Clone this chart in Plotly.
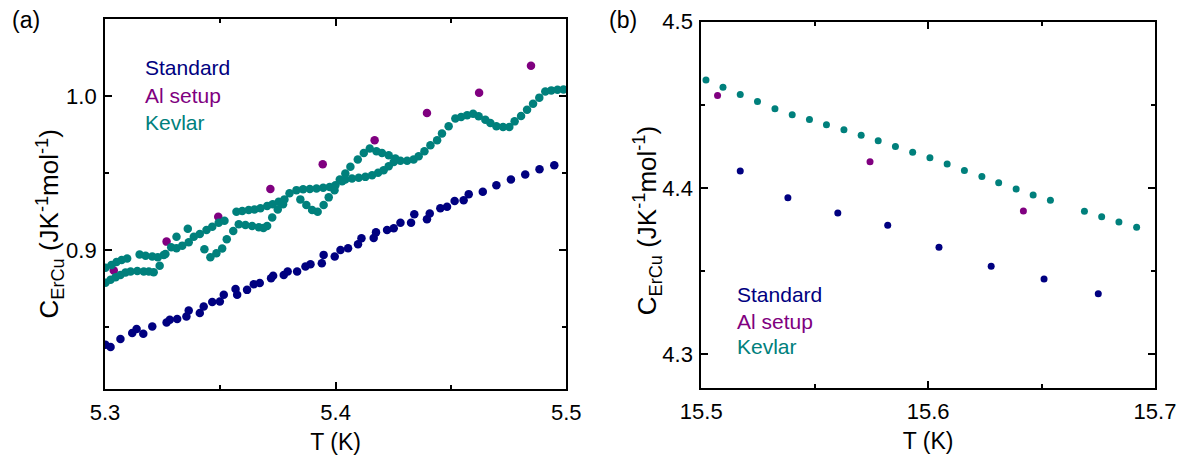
import plotly.graph_objects as go

# ---------------- Panel (a) data ----------------
std_a_T = [5.3002, 5.3024, 5.3067, 5.3118, 5.3137, 5.3166, 5.3205, 5.3267, 5.3281, 5.3313,
           5.3353, 5.3363, 5.3411, 5.3428, 5.3465, 5.3498, 5.3515, 5.3566, 5.3573, 5.3616,
           5.3645, 5.3671, 5.3720, 5.3729, 5.3775, 5.3792, 5.3833, 5.3869, 5.3891, 5.3940,
           5.3948, 5.3996, 5.4021, 5.4054, 5.4097, 5.4112, 5.4165, 5.4175, 5.4223, 5.4252,
           5.4281, 5.4327, 5.4341, 5.4396, 5.4408, 5.4454, 5.4483, 5.4516, 5.4555, 5.4577,
           5.4638, 5.4697, 5.4760, 5.4822, 5.4884, 5.4948]
std_a_C = [0.8387, 0.8373, 0.8424, 0.8463, 0.8489, 0.8459, 0.8506, 0.8532, 0.8549, 0.8554,
           0.8571, 0.8609, 0.8593, 0.8635, 0.8664, 0.8668, 0.8711, 0.8748, 0.8711, 0.8743,
           0.8780, 0.8787, 0.8819, 0.8834, 0.8840, 0.8862, 0.8862, 0.8894, 0.8909, 0.8916,
           0.8970, 0.8959, 0.9002, 0.9013, 0.9039, 0.9078, 0.9080, 0.9116, 0.9131, 0.9142,
           0.9179, 0.9179, 0.9233, 0.9201, 0.9239, 0.9272, 0.9282, 0.9319, 0.9325, 0.9364,
           0.9379, 0.9422, 0.9459, 0.9492, 0.9526, 0.9552]

al_a_T = [5.3038, 5.3267, 5.3491, 5.3717, 5.3944, 5.4169, 5.4396, 5.4622, 5.4847]
al_a_C = [0.8868, 0.9056, 0.9217, 0.9398, 0.9558, 0.9713, 0.9890, 1.0022, 1.0197]

kev_a_T = [
    # lower row start
    5.3002, 5.3024, 5.3046, 5.3067, 5.3089, 5.3111, 5.3140, 5.3168, 5.3190, 5.3211,
    5.3237, 5.3262, 5.3287, 5.3310, 5.3335, 5.3363, 5.3385, 5.3411, 5.3440, 5.3465,
    5.3493, 5.3518,
    # upper row start
    5.3002, 5.3028, 5.3050, 5.3072, 5.3096, 5.3150, 5.3176, 5.3205, 5.3229, 5.3255,
    5.3310, 5.3359,
    # dip 1
    5.3431, 5.3457, 5.3483, 5.3508, 5.3528, 5.3556,
    # upper row 2
    5.3570, 5.3595, 5.3623, 5.3648, 5.3674, 5.3703, 5.3727, 5.3753, 5.3778, 5.3800,
    5.3830, 5.3859, 5.3888, 5.3917, 5.3946, 5.3974, 5.3999, 5.4018, 5.4042, 5.4064,
    5.4096, 5.4122, 5.4148, 5.4177, 5.4201, 5.4230, 5.4259,
    # lower loop 2
    5.3580, 5.3609, 5.3638, 5.3667, 5.3687, 5.3703, 5.3725, 5.3749, 5.3772,
    # dip 2
    5.3847, 5.3873, 5.3898, 5.3922, 5.3948, 5.3970, 5.3995, 5.4028,
    # lower branch 3
    5.4042, 5.4071, 5.4100, 5.4129, 5.4158, 5.4184, 5.4208, 5.4230, 5.4252, 5.4281,
    5.4310, 5.4338, 5.4360, 5.4385, 5.4411, 5.4440, 5.4461, 5.4490, 5.4519, 5.4544,
    5.4570, 5.4596, 5.4620, 5.4649, 5.4671, 5.4697, 5.4726, 5.4753, 5.4776, 5.4804,
    5.4830, 5.4856, 5.4883, 5.4909, 5.4935, 5.4962, 5.4988]
kev_a_C = [
    0.8790, 0.8808, 0.8825, 0.8840, 0.8855, 0.8862, 0.8866, 0.8862, 0.8862, 0.8858,
    0.8900, 0.8976, 0.9019, 0.9013, 0.9030, 0.9052, 0.9088, 0.9105, 0.9131, 0.9153,
    0.9179, 0.9191,
    0.8886, 0.8905, 0.8924, 0.8937, 0.8947, 0.8972, 0.8965, 0.8959, 0.8955, 0.8970,
    0.9088, 0.9140,
    0.9006, 0.8955, 0.8981, 0.9012, 0.9071, 0.9125,
    0.9250, 0.9254, 0.9261, 0.9265, 0.9272, 0.9287, 0.9299, 0.9314, 0.9330, 0.9369,
    0.9390, 0.9395, 0.9397, 0.9401, 0.9405, 0.9411, 0.9422, 0.9459, 0.9498, 0.9541,
    0.9589, 0.9631, 0.9660, 0.9642, 0.9631, 0.9616, 0.9595,
    0.9168, 0.9164, 0.9157, 0.9149, 0.9144, 0.9157, 0.9213, 0.9265, 0.9299,
    0.9330, 0.9293, 0.9261, 0.9250, 0.9293, 0.9343, 0.9390, 0.9448,
    0.9459, 0.9466, 0.9470, 0.9476, 0.9487, 0.9502, 0.9519, 0.9545, 0.9573, 0.9580,
    0.9580, 0.9589, 0.9610, 0.9642, 0.9681, 0.9713, 0.9757, 0.9804, 0.9854, 0.9864,
    0.9875, 0.9886, 0.9869, 0.9847, 0.9825, 0.9804, 0.9799, 0.9799, 0.9836, 0.9871,
    0.9912, 0.9951, 0.9990, 1.0030, 1.0037, 1.0041, 1.0043]

# ---------------- Panel (b) data ----------------
std_b_T = [15.5172, 15.5382, 15.5602, 15.5822, 15.6048, 15.6278, 15.6511, 15.6750]
std_b_C = [4.4102, 4.3942, 4.3850, 4.3776, 4.3644, 4.3530, 4.3454, 4.3364]

al_b_T = [15.5072, 15.5744, 15.6420]
al_b_C = [4.4556, 4.4158, 4.3862]

kev_b_T = [15.5021, 15.5096, 15.5172, 15.5248, 15.5325, 15.5401, 15.5477, 15.5552, 15.5629,
           15.5705, 15.5780, 15.5856, 15.5932, 15.6008, 15.6084, 15.6160, 15.6237, 15.6311,
           15.6388, 15.6463, 15.6539, 15.6689, 15.6765, 15.6841, 15.6919]
kev_b_C = [4.4650, 4.4606, 4.4562, 4.4520, 4.4476, 4.4440, 4.4412, 4.4380, 4.4350,
           4.4318, 4.4284, 4.4250, 4.4216, 4.4182, 4.4144, 4.4106, 4.4070, 4.4032,
           4.3994, 4.3958, 4.3926, 4.3860, 4.3828, 4.3796, 4.3764]

series_names = ["Standard", "Al setup", "Kevlar"]
colors = ["#000080", "#800080", "#00807c"]

FONT = "Liberation Sans, Arial, sans-serif"

fig = go.Figure()

panel_a = [(std_a_T, std_a_C), (al_a_T, al_a_C), (kev_a_T, kev_a_C)]
panel_b = [(std_b_T, std_b_C), (al_b_T, al_b_C), (kev_b_T, kev_b_C)]

for (x, y), name, c in zip(panel_a, series_names, colors):
    fig.add_trace(go.Scatter(x=x, y=y, mode="markers", name=name,
                             marker=dict(color=c, size=8.5, line=dict(width=0)),
                             xaxis="x", yaxis="y", showlegend=False))
for (x, y), name, c in zip(panel_b, series_names, colors):
    fig.add_trace(go.Scatter(x=x, y=y, mode="markers", name=name,
                             marker=dict(color=c, size=7, line=dict(width=0)),
                             xaxis="x2", yaxis="y2", showlegend=False))

# the page body adds an 8 px margin; figure is sized to fit inside the window
OFF = 8
W, H = 1189 - 2 * OFF, 464 - 2 * OFF
ml, mr, mt, mb = 104.5 - OFF, W - (1155 - OFF), 19 - OFF, H - (389 - OFF)
pw, ph = W - ml - mr, H - mt - mb

def px_x(p):
    """screen x pixel -> plot-area fraction"""
    return (p - OFF - ml) / pw

def px_y(p):
    """screen y pixel -> plot-area fraction"""
    return (H - mb - (p - OFF)) / ph

axis_common = dict(
    showline=True, linecolor="black", linewidth=1.8, mirror="ticks",
    ticks="inside", ticklen=7, tickwidth=1.5, tickcolor="black",
    showgrid=False, zeroline=False,
    tickfont=dict(family=FONT, size=22, color="black"),
)
minor = dict(ticks="inside", ticklen=4, tickwidth=1.5, tickcolor="black", showgrid=False)

ytitle = "C<sub>ErCu</sub> (JK<sup>-1</sup>mol<sup>-1</sup>)"
xfont = dict(family=FONT, size=23, color="black")
yfont = dict(family=FONT, size=26, color="black")

fig.update_layout(
    width=W, height=H,
    margin=dict(l=ml, r=mr, t=mt, b=mb, autoexpand=False),
    paper_bgcolor="white", plot_bgcolor="white",
    font=dict(family=FONT, size=20, color="black"),
    xaxis=dict(axis_common, domain=[0, px_x(566)], range=[5.3, 5.5],
               tick0=5.3, dtick=0.1, tickformat=".1f",
               minor=dict(minor, dtick=0.05),
               title=dict(text="T (K)", standoff=10, font=xfont), anchor="y", ticklabelstandoff=3),
    yaxis=dict(axis_common, domain=[0, 1], range=[0.81, 1.05],
               tick0=0.9, dtick=0.1, tickformat=".1f",
               minor=dict(minor, dtick=0.05), anchor="x", ticklabelstandoff=2),
    xaxis2=dict(axis_common, domain=[px_x(701), 1], range=[15.5, 15.7],
                tick0=15.5, dtick=0.1, tickformat=".1f",
                minor=dict(minor, dtick=0.05),
                title=dict(text="T (K)", standoff=10, font=xfont), anchor="y2", ticklabelstandoff=3),
    yaxis2=dict(axis_common, domain=[px_y(387.7), px_y(21.7)], range=[4.28, 4.5],
                tick0=4.3, dtick=0.1, tickformat=".1f",
                minor=dict(minor, dtick=0.05), anchor="x2", ticklabelstandoff=2),
)

annotations = []
# y-axis titles (placed as rotated text, a little below the axis centre as in the original)
for sx, sy in ((49, 224), (647, 221)):
    annotations.append(dict(text=ytitle, x=px_x(sx), y=px_y(sy), xref="paper", yref="paper",
                            xanchor="center", yanchor="middle", textangle=-90, showarrow=False,
                            font=yfont))
# panel labels
for lab, sx in (("(a)", 9), ("(b)", 607)):
    annotations.append(dict(text=lab, x=px_x(sx), y=px_y(20), xref="paper", yref="paper",
                            xanchor="left", yanchor="middle", showarrow=False,
                            font=dict(family=FONT, size=23, color="black")))
# in-plot legends as coloured text
for name, c, yy in zip(series_names, colors, [68, 95, 122]):
    annotations.append(dict(text=name, x=px_x(143), y=px_y(yy), xref="paper", yref="paper",
                            xanchor="left", yanchor="middle", showarrow=False,
                            font=dict(family=FONT, size=21, color=c)))
for name, c, yy in zip(series_names, colors, [294, 321, 346]):
    annotations.append(dict(text=name, x=px_x(735), y=px_y(yy), xref="paper", yref="paper",
                            xanchor="left", yanchor="middle", showarrow=False,
                            font=dict(family=FONT, size=21, color=c)))
fig.update_layout(annotations=annotations)

fig.write_html("out.html")
